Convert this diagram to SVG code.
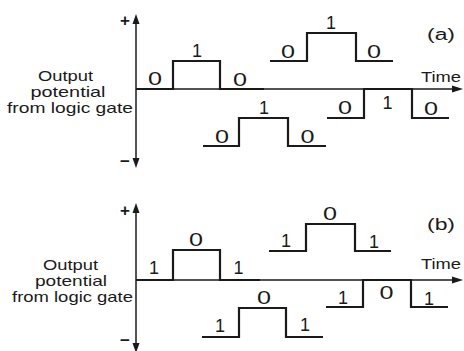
<svg xmlns="http://www.w3.org/2000/svg" width="464" height="351" viewBox="0 0 464 351">
<style>
text{font-family:"Liberation Sans","DejaVu Sans",sans-serif;fill:#1a1a1a}
.lv{font-size:18px;text-anchor:middle}
.side{font-size:15px;text-anchor:middle}
.tm{font-size:14px}
.tag{font-size:16px}
.sg{font-size:17px;font-weight:bold;text-anchor:middle}
.wave{fill:none;stroke:#1a1a1a;stroke-width:2.2}
.axis{fill:none;stroke:#1a1a1a;stroke-width:1.5}
.head{fill:#1a1a1a}
</style>
<rect width="464" height="351" fill="#fff"/>
<g id="connectors">
  <!-- panel a axes -->
  <line class="axis" x1="136" y1="22" x2="136" y2="160"/>
  <polygon class="head" points="136,14 132.5,24 139.5,24"/>
  <polygon class="head" points="136,168 132.5,158 139.5,158"/>
  <line class="axis" x1="136" y1="89" x2="454" y2="89"/>
  <polygon class="head" points="463,89 452,85.5 452,92.5"/>
  <!-- panel b axes -->
  <line class="axis" x1="136" y1="212" x2="136" y2="345"/>
  <polygon class="head" points="136,203 132.5,213 139.5,213"/>
  <polygon class="head" points="136,353 132.5,343 139.5,343"/>
  <line class="axis" x1="136" y1="280" x2="454" y2="280"/>
  <polygon class="head" points="463,280 452,276.5 452,283.5"/>
</g>
<g id="panel-a">
  <g id="a-labels">
    <text class="sg" x="125" y="26">+</text>
    <text class="sg" x="125" y="167">−</text>
    <text class="side" x="65.5" y="81" textLength="55" lengthAdjust="spacingAndGlyphs">Output</text>
    <text class="side" x="68" y="97" textLength="75" lengthAdjust="spacingAndGlyphs">potential</text>
    <text class="side" x="70" y="113" textLength="126" lengthAdjust="spacingAndGlyphs">from logic gate</text>
    <text class="tm" x="421" y="82" textLength="40" lengthAdjust="spacingAndGlyphs">Time</text>
    <text class="tag" x="427" y="40" textLength="28" lengthAdjust="spacingAndGlyphs">(a)</text>
  </g>
  <g id="a-wave1">
    <path class="wave" d="M136,89 H173 V61 H220 V89 H264"/>
    <text class="lv" x="155" y="85" textLength="14" lengthAdjust="spacingAndGlyphs">0</text>
    <text class="lv" x="197" y="57">1</text>
    <text class="lv" x="240" y="86" textLength="14" lengthAdjust="spacingAndGlyphs">0</text>
  </g>
  <g id="a-wave2">
    <path class="wave" d="M270,61 H307 V33 H356 V61 H393"/>
    <text class="lv" x="288" y="57.5" textLength="14" lengthAdjust="spacingAndGlyphs">0</text>
    <text class="lv" x="331" y="29">1</text>
    <text class="lv" x="374" y="57.5" textLength="14" lengthAdjust="spacingAndGlyphs">0</text>
  </g>
  <g id="a-wave3">
    <path class="wave" d="M203,146 H239 V118 H288 V146 H326"/>
    <text class="lv" x="222" y="142.5" textLength="14" lengthAdjust="spacingAndGlyphs">0</text>
    <text class="lv" x="264" y="114">1</text>
    <text class="lv" x="307.5" y="142.5" textLength="14" lengthAdjust="spacingAndGlyphs">0</text>
  </g>
  <g id="a-wave4">
    <path class="wave" d="M327,118 H364 V89 H412 V118 H449"/>
    <text class="lv" x="345" y="113.5" textLength="14" lengthAdjust="spacingAndGlyphs">0</text>
    <text class="lv" x="387.5" y="109">1</text>
    <text class="lv" x="431" y="114.5" textLength="14" lengthAdjust="spacingAndGlyphs">0</text>
  </g>
</g>
<g id="panel-b">
  <g id="b-labels">
    <text class="sg" x="125" y="216">+</text>
    <text class="sg" x="125" y="346">−</text>
    <text class="side" x="70.5" y="270" textLength="55" lengthAdjust="spacingAndGlyphs">Output</text>
    <text class="side" x="71" y="286" textLength="72" lengthAdjust="spacingAndGlyphs">potential</text>
    <text class="side" x="72.5" y="302" textLength="121" lengthAdjust="spacingAndGlyphs">from logic gate</text>
    <text class="tm" x="421" y="269" textLength="40" lengthAdjust="spacingAndGlyphs">Time</text>
    <text class="tag" x="427" y="230" textLength="28" lengthAdjust="spacingAndGlyphs">(b)</text>
  </g>
  <g id="b-wave1">
    <path class="wave" d="M136,280 H173 V250 H220 V280 H260"/>
    <text class="lv" x="154" y="274">1</text>
    <text class="lv" x="196" y="245.5" textLength="14" lengthAdjust="spacingAndGlyphs">0</text>
    <text class="lv" x="238.5" y="274">1</text>
  </g>
  <g id="b-wave2">
    <path class="wave" d="M269,251 H306 V224 H355 V251 H391"/>
    <text class="lv" x="286" y="247">1</text>
    <text class="lv" x="330" y="219.5" textLength="14" lengthAdjust="spacingAndGlyphs">0</text>
    <text class="lv" x="374" y="248">1</text>
  </g>
  <g id="b-wave3">
    <path class="wave" d="M202,337 H239 V308 H286 V337 H323"/>
    <text class="lv" x="220" y="332">1</text>
    <text class="lv" x="264" y="303.5" textLength="14" lengthAdjust="spacingAndGlyphs">0</text>
    <text class="lv" x="305" y="331">1</text>
  </g>
  <g id="b-wave4">
    <path class="wave" d="M326,307 H363 V280 H411 V307 H448"/>
    <text class="lv" x="343" y="304">1</text>
    <text class="lv" x="386.5" y="298.5" textLength="14" lengthAdjust="spacingAndGlyphs">0</text>
    <text class="lv" x="429" y="305">1</text>
  </g>
</g>
</svg>
